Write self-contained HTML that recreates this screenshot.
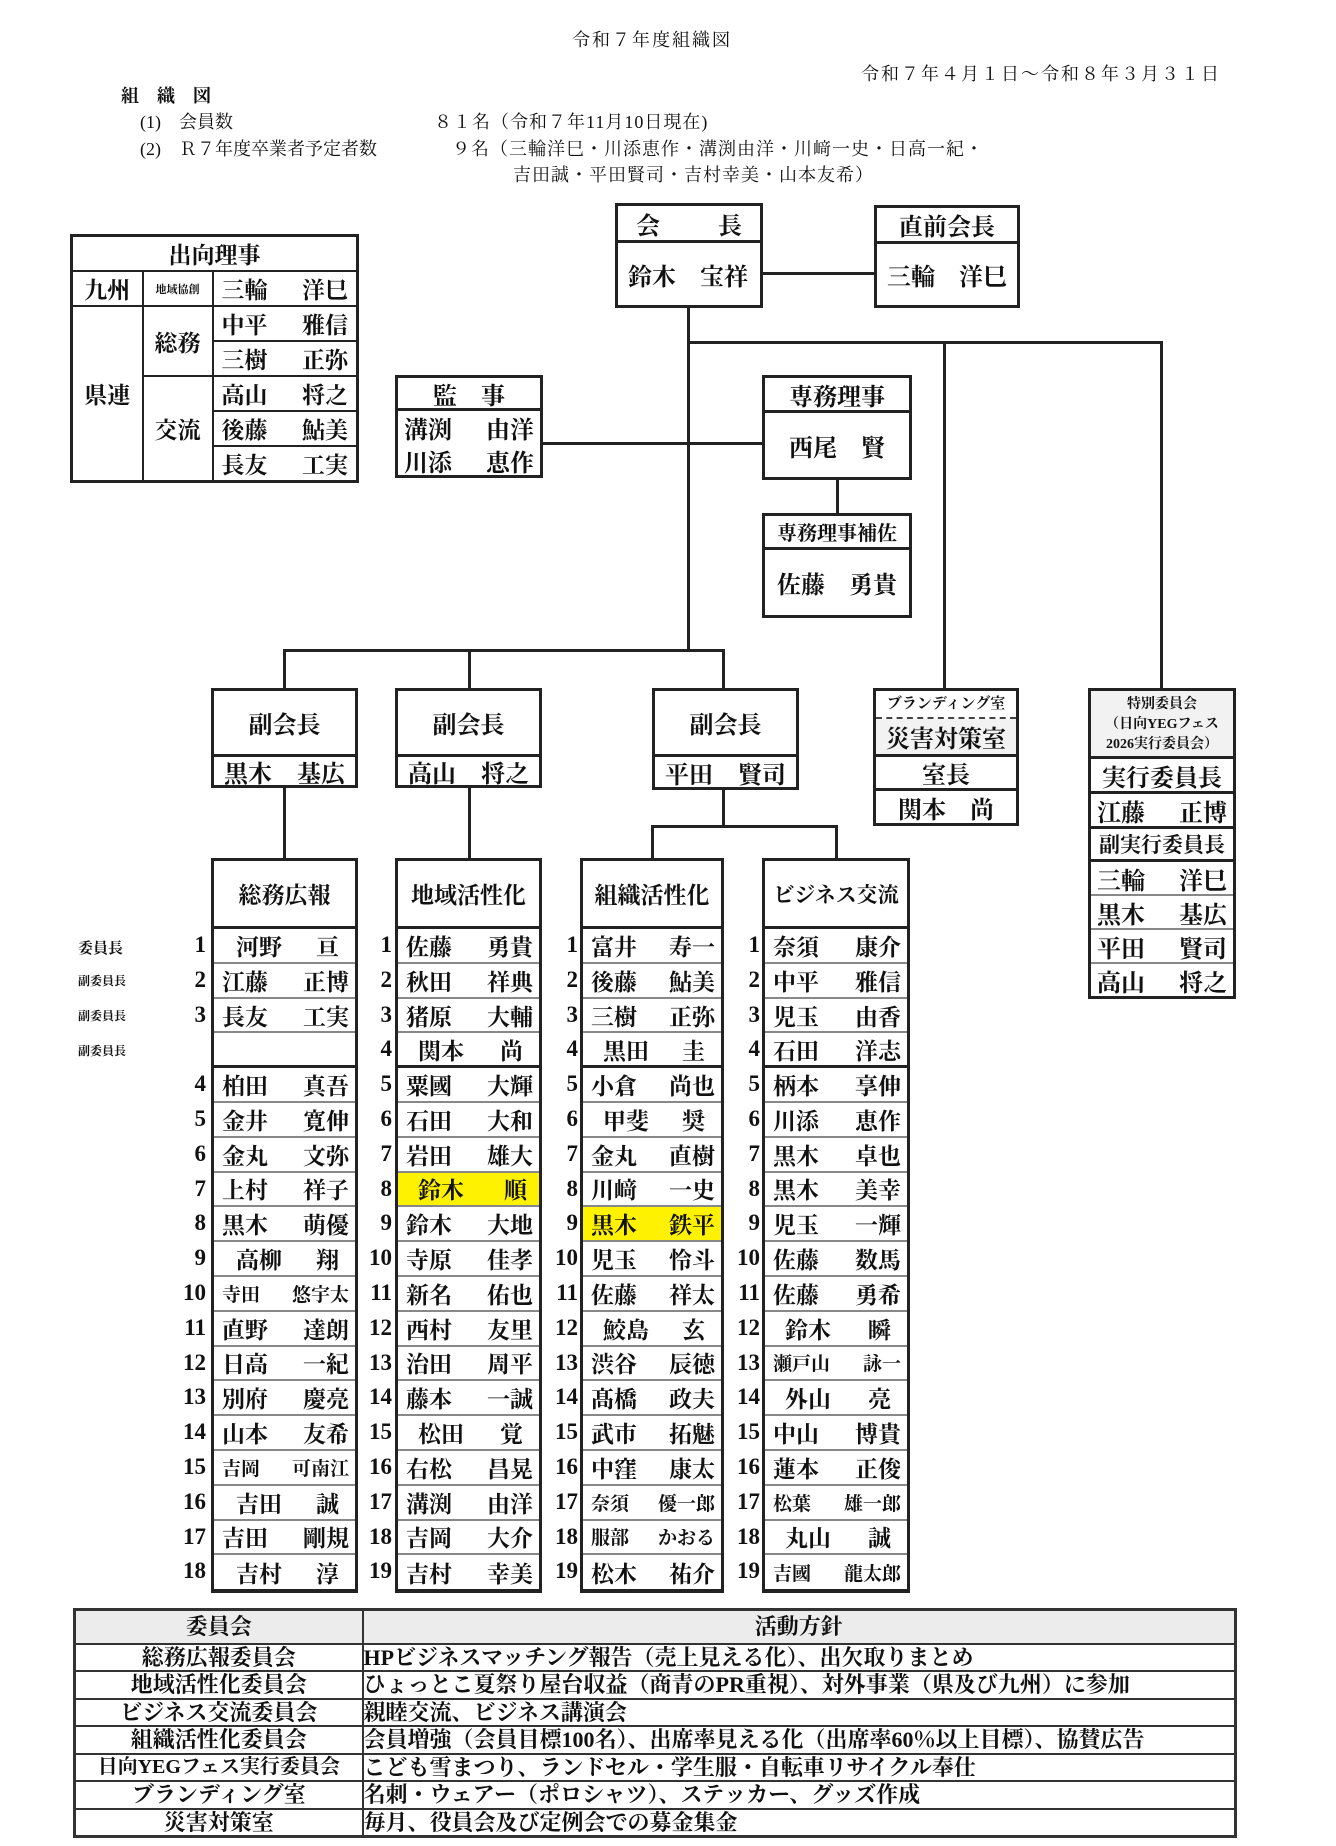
<!DOCTYPE html>
<html><head><meta charset="utf-8">
<style>
*{box-sizing:border-box;margin:0;padding:0}
body{width:1336px;height:1846px;background:#fff;position:relative;overflow:hidden;font-family:"Liberation Serif","Noto Serif CJK JP",serif;color:#111}
.a{position:absolute}
.t{font-size:18px;white-space:nowrap}
.box{position:absolute;border:3px solid #222;background:#fff;font-weight:bold}
.hd{border-bottom:3px solid #222;display:flex;align-items:center;justify-content:center;font-size:24px}
.nm{display:flex;align-items:center;justify-content:space-between;padding:0 10px;font-size:24px}
.h{position:absolute;height:3px;background:#222}
.v{position:absolute;width:3px;background:#222}
.col{position:absolute;top:858px;height:735px;border:3px solid #222;border-bottom-width:4px;font-weight:bold;background:#fff}
.col .hd{height:68px;font-size:23px}
.col .r{height:34.8px;border-bottom:2px solid #888;display:flex;align-items:center;justify-content:space-between;padding:0 6px 0 8px;font-size:23px;white-space:nowrap}
.col .r.k{border-bottom:3px solid #222}
.col .r:last-child{border-bottom:none}
.col .y{background:#fff200}
.col .s{font-size:19px}
.num{position:absolute;top:928px;width:26px;font-weight:bold;font-size:23px;text-align:right}
.num div{height:34.8px;line-height:34.8px}
.lbl{position:absolute;left:78px;font-size:12px;font-weight:bold}
table{border-collapse:collapse}
#sk td{border:2px solid #222;text-align:center;font-weight:bold;font-size:23px}
#bt td{border:2px solid #333;font-weight:bold;font-size:22px;white-space:nowrap;height:27.5px;line-height:25px}
</style></head><body>
<div class="a t" style="left:572px;top:26px;letter-spacing:2px">令和７年度組織図</div>
<div class="a t" style="left:861px;top:60px;letter-spacing:2px">令和７年４月１日～令和８年３月３１日</div>
<div class="a t" style="left:121px;top:82px;font-weight:bold">組　織　図</div>
<div class="a t" style="left:140px;top:108px">(1)　会員数</div>
<div class="a t" style="left:434px;top:108px;letter-spacing:1px">８１名（令和７年11月10日現在)</div>
<div class="a t" style="left:140px;top:135px">(2)　Ｒ７年度卒業者予定者数</div>
<div class="a t" style="left:452px;top:135px;letter-spacing:1px">９名（三輪洋巳・川添恵作・溝渕由洋・川﨑一史・日高一紀・</div>
<div class="a t" style="left:513px;top:161px;letter-spacing:1px">吉田誠・平田賢司・吉村幸美・山本友希）</div>

<!-- 出向理事 -->
<table id="sk" class="a" style="left:70px;top:234px;width:289px;height:244px;border:3px solid #222">
<tr style="height:35px"><td colspan="3">出向理事</td></tr>
<tr style="height:35px"><td style="width:71px">九州</td><td style="width:70px;font-size:11px">地域協創</td><td><div style="display:flex;justify-content:space-between;padding:0 8px"><span>三輪</span><span>洋巳</span></div></td></tr>
<tr><td rowspan="5">県連</td><td rowspan="2">総務</td><td><div style="display:flex;justify-content:space-between;padding:0 8px"><span>中平</span><span>雅信</span></div></td></tr>
<tr><td><div style="display:flex;justify-content:space-between;padding:0 8px"><span>三樹</span><span>正弥</span></div></td></tr>
<tr><td rowspan="3">交流</td><td><div style="display:flex;justify-content:space-between;padding:0 8px"><span>高山</span><span>将之</span></div></td></tr>
<tr><td><div style="display:flex;justify-content:space-between;padding:0 8px"><span>後藤</span><span>鮎美</span></div></td></tr>
<tr><td><div style="display:flex;justify-content:space-between;padding:0 8px"><span>長友</span><span>工実</span></div></td></tr>
</table>

<!-- lines -->
<div class="v" style="left:687px;top:306px;height:345px"></div>
<div class="h" style="left:687px;top:341px;width:476px"></div>
<div class="v" style="left:943px;top:341px;height:348px"></div>
<div class="v" style="left:1160px;top:341px;height:348px"></div>
<div class="h" style="left:760px;top:272px;width:117px"></div>
<div class="h" style="left:540px;top:442px;width:224px"></div>
<div class="v" style="left:836px;top:478px;height:37px"></div>
<div class="h" style="left:283px;top:649px;width:442px"></div>
<div class="v" style="left:283px;top:649px;height:40px"></div>
<div class="v" style="left:468px;top:649px;height:40px"></div>
<div class="v" style="left:722px;top:649px;height:40px"></div>
<div class="v" style="left:283px;top:786px;height:73px"></div>
<div class="v" style="left:468px;top:786px;height:73px"></div>
<div class="v" style="left:722px;top:790px;height:36px"></div>
<div class="h" style="left:651px;top:825px;width:187px"></div>
<div class="v" style="left:651px;top:825px;height:34px"></div>
<div class="v" style="left:835px;top:825px;height:34px"></div>

<!-- 会長 -->
<div class="box" style="left:615px;top:203px;width:148px;height:105px">
<div class="hd" style="height:37px;justify-content:space-between;padding:0 18px"><span>会</span><span>長</span></div>
<div class="nm" style="height:62px">鈴木　宝祥</div></div>
<div class="box" style="left:874px;top:205px;width:146px;height:103px">
<div class="hd" style="height:36px">直前会長</div>
<div class="nm" style="height:61px"><span>三輪</span><span>洋巳</span></div></div>
<div class="box" style="left:395px;top:375px;width:148px;height:103px">
<div class="hd" style="height:33px">監　事</div>
<div class="nm" style="height:33px;padding:0 6px"><span>溝渕</span><span>由洋</span></div>
<div class="nm" style="height:33px;padding:0 6px"><span>川添</span><span>恵作</span></div></div>
<div class="box" style="left:762px;top:375px;width:150px;height:105px">
<div class="hd" style="height:35px">専務理事</div>
<div class="nm" style="height:64px;justify-content:center">西尾　賢</div></div>
<div class="box" style="left:762px;top:513px;width:150px;height:105px">
<div class="hd" style="height:34px;font-size:20px">専務理事補佐</div>
<div class="nm" style="height:65px;justify-content:center">佐藤　勇貴</div></div>

<!-- 副会長 -->
<div class="box" style="left:211px;top:688px;width:147px;height:100px">
<div class="hd" style="height:66px">副会長</div><div class="nm" style="height:28px"><span>黒木</span><span>基広</span></div></div>
<div class="box" style="left:395px;top:688px;width:147px;height:100px">
<div class="hd" style="height:66px">副会長</div><div class="nm" style="height:28px"><span>高山</span><span>将之</span></div></div>
<div class="box" style="left:652px;top:688px;width:147px;height:102px">
<div class="hd" style="height:66px">副会長</div><div class="nm" style="height:30px"><span>平田</span><span>賢司</span></div></div>

<!-- ブランディング -->
<div class="box" style="left:873px;top:688px;width:146px;height:138px">
<div style="height:28px;border-bottom:2px dashed #444;text-align:center;font-size:15px;line-height:26px">ブランディング室</div>
<div class="hd" style="height:38px;font-size:24px;background:#f2f2f2">災害対策室</div>
<div class="hd" style="height:34px">室長</div>
<div class="nm" style="height:32px;justify-content:center">関本　尚</div></div>

<!-- 特別委員会 -->
<div class="box" style="left:1088px;top:688px;width:148px;height:311px">
<div style="height:68px;border-bottom:3px solid #222;text-align:center;font-size:14px;line-height:20px;padding-top:4px;background:#f2f2f2">特別委員会<br>（日向YEGフェス<br>2026実行委員会）</div>
<div class="hd" style="height:35px">実行委員長</div>
<div class="nm" style="height:35px;border-bottom:3px solid #222;padding:0 6px"><span>江藤</span><span>正博</span></div>
<div class="hd" style="height:33px;font-size:21px">副実行委員長</div>
<div class="nm" style="height:34px;border-bottom:2px solid #888;padding:0 6px"><span>三輪</span><span>洋巳</span></div>
<div class="nm" style="height:34px;border-bottom:2px solid #888;padding:0 6px"><span>黒木</span><span>基広</span></div>
<div class="nm" style="height:34px;border-bottom:2px solid #888;padding:0 6px"><span>平田</span><span>賢司</span></div>
<div class="nm" style="height:32px;padding:0 6px"><span>高山</span><span>将之</span></div></div>

<!-- labels -->
<div class="lbl" style="top:937px;font-size:15px">委員長</div>
<div class="lbl" style="top:972px">副委員長</div>
<div class="lbl" style="top:1007px">副委員長</div>
<div class="lbl" style="top:1042px">副委員長</div>

<!-- numbers -->
<div class="num" style="left:180px"><div>1</div><div>2</div><div>3</div><div></div><div>4</div><div>5</div><div>6</div><div>7</div><div>8</div><div>9</div><div>10</div><div>11</div><div>12</div><div>13</div><div>14</div><div>15</div><div>16</div><div>17</div><div>18</div></div>
<div class="num" style="left:366px"><div>1</div><div>2</div><div>3</div><div>4</div><div>5</div><div>6</div><div>7</div><div>8</div><div>9</div><div>10</div><div>11</div><div>12</div><div>13</div><div>14</div><div>15</div><div>16</div><div>17</div><div>18</div><div>19</div></div>
<div class="num" style="left:552px"><div>1</div><div>2</div><div>3</div><div>4</div><div>5</div><div>6</div><div>7</div><div>8</div><div>9</div><div>10</div><div>11</div><div>12</div><div>13</div><div>14</div><div>15</div><div>16</div><div>17</div><div>18</div><div>19</div></div>
<div class="num" style="left:734px"><div>1</div><div>2</div><div>3</div><div>4</div><div>5</div><div>6</div><div>7</div><div>8</div><div>9</div><div>10</div><div>11</div><div>12</div><div>13</div><div>14</div><div>15</div><div>16</div><div>17</div><div>18</div><div>19</div></div>

<!-- columns -->
<div class="col" style="left:211px;width:147px"><div class="hd">総務広報</div>
<div class="r" style="padding:0 16px 0 22px"><span>河野</span><span>亘</span></div>
<div class="r"><span>江藤</span><span>正博</span></div>
<div class="r"><span>長友</span><span>工実</span></div>
<div class="r k"></div>
<div class="r"><span>柏田</span><span>真吾</span></div>
<div class="r"><span>金井</span><span>寛伸</span></div>
<div class="r"><span>金丸</span><span>文弥</span></div>
<div class="r"><span>上村</span><span>祥子</span></div>
<div class="r"><span>黒木</span><span>萌優</span></div>
<div class="r" style="padding:0 16px 0 22px"><span>高柳</span><span>翔</span></div>
<div class="r s"><span>寺田</span><span>悠宇太</span></div>
<div class="r"><span>直野</span><span>達朗</span></div>
<div class="r"><span>日高</span><span>一紀</span></div>
<div class="r"><span>別府</span><span>慶亮</span></div>
<div class="r"><span>山本</span><span>友希</span></div>
<div class="r s"><span>吉岡</span><span>可南江</span></div>
<div class="r" style="padding:0 16px 0 22px"><span>吉田</span><span>誠</span></div>
<div class="r"><span>吉田</span><span>剛規</span></div>
<div class="r" style="padding:0 16px 0 22px"><span>吉村</span><span>淳</span></div>
</div>
<div class="col" style="left:395px;width:147px"><div class="hd">地域活性化</div>
<div class="r"><span>佐藤</span><span>勇貴</span></div>
<div class="r"><span>秋田</span><span>祥典</span></div>
<div class="r"><span>猪原</span><span>大輔</span></div>
<div class="r k" style="padding:0 16px 0 20px"><span>関本</span><span>尚</span></div>
<div class="r"><span>粟國</span><span>大輝</span></div>
<div class="r"><span>石田</span><span>大和</span></div>
<div class="r"><span>岩田</span><span>雄大</span></div>
<div class="r y" style="padding:0 12px 0 20px"><span>鈴木</span><span>順</span></div>
<div class="r"><span>鈴木</span><span>大地</span></div>
<div class="r"><span>寺原</span><span>佳孝</span></div>
<div class="r"><span>新名</span><span>佑也</span></div>
<div class="r"><span>西村</span><span>友里</span></div>
<div class="r"><span>治田</span><span>周平</span></div>
<div class="r"><span>藤本</span><span>一誠</span></div>
<div class="r" style="padding:0 16px 0 20px"><span>松田</span><span>覚</span></div>
<div class="r"><span>右松</span><span>昌晃</span></div>
<div class="r"><span>溝渕</span><span>由洋</span></div>
<div class="r"><span>吉岡</span><span>大介</span></div>
<div class="r"><span>吉村</span><span>幸美</span></div>
</div>
<div class="col" style="left:580px;width:144px"><div class="hd">組織活性化</div>
<div class="r"><span>富井</span><span>寿一</span></div>
<div class="r"><span>後藤</span><span>鮎美</span></div>
<div class="r"><span>三樹</span><span>正弥</span></div>
<div class="r k" style="padding:0 16px 0 20px"><span>黒田</span><span>圭</span></div>
<div class="r"><span>小倉</span><span>尚也</span></div>
<div class="r" style="padding:0 16px 0 20px"><span>甲斐</span><span>奨</span></div>
<div class="r"><span>金丸</span><span>直樹</span></div>
<div class="r"><span>川﨑</span><span>一史</span></div>
<div class="r y"><span>黒木</span><span>鉄平</span></div>
<div class="r"><span>児玉</span><span>怜斗</span></div>
<div class="r"><span>佐藤</span><span>祥太</span></div>
<div class="r" style="padding:0 16px 0 20px"><span>鮫島</span><span>玄</span></div>
<div class="r"><span>渋谷</span><span>辰徳</span></div>
<div class="r"><span>髙橋</span><span>政夫</span></div>
<div class="r"><span>武市</span><span>拓魅</span></div>
<div class="r"><span>中窪</span><span>康太</span></div>
<div class="r s"><span>奈須</span><span>優一郎</span></div>
<div class="r s"><span>服部</span><span>かおる</span></div>
<div class="r"><span>松木</span><span>祐介</span></div>
</div>
<div class="col" style="left:762px;width:148px"><div class="hd" style="font-size:21px">ビジネス交流</div>
<div class="r"><span>奈須</span><span>康介</span></div>
<div class="r"><span>中平</span><span>雅信</span></div>
<div class="r"><span>児玉</span><span>由香</span></div>
<div class="r k"><span>石田</span><span>洋志</span></div>
<div class="r"><span>柄本</span><span>享伸</span></div>
<div class="r"><span>川添</span><span>恵作</span></div>
<div class="r"><span>黒木</span><span>卓也</span></div>
<div class="r"><span>黒木</span><span>美幸</span></div>
<div class="r"><span>児玉</span><span>一輝</span></div>
<div class="r"><span>佐藤</span><span>数馬</span></div>
<div class="r"><span>佐藤</span><span>勇希</span></div>
<div class="r" style="padding:0 16px 0 20px"><span>鈴木</span><span>瞬</span></div>
<div class="r s"><span>瀬戸山</span><span>詠一</span></div>
<div class="r" style="padding:0 16px 0 20px"><span>外山</span><span>亮</span></div>
<div class="r"><span>中山</span><span>博貴</span></div>
<div class="r"><span>蓮本</span><span>正俊</span></div>
<div class="r s"><span>松葉</span><span>雄一郎</span></div>
<div class="r" style="padding:0 16px 0 20px"><span>丸山</span><span>誠</span></div>
<div class="r s"><span>吉國</span><span>龍太郎</span></div>
</div>

<!-- bottom table -->
<table id="bt" class="a" style="left:73px;top:1608px;width:1164px;border:3px solid #333">
<tr style="background:#ececec"><td style="width:288px;text-align:center;height:34px">委員会</td><td style="text-align:center">活動方針</td></tr>
<tr><td style="text-align:center">総務広報委員会</td><td>HPビジネスマッチング報告（売上見える化）、出欠取りまとめ</td></tr>
<tr><td style="text-align:center">地域活性化委員会</td><td>ひょっとこ夏祭り屋台収益（商青のPR重視）、対外事業（県及び九州）に参加</td></tr>
<tr><td style="text-align:center">ビジネス交流委員会</td><td>親睦交流、ビジネス講演会</td></tr>
<tr><td style="text-align:center">組織活性化委員会</td><td>会員増強（会員目標100名）、出席率見える化（出席率60％以上目標）、協賛広告</td></tr>
<tr><td style="text-align:center;font-size:20px">日向YEGフェス実行委員会</td><td>こども雪まつり、ランドセル・学生服・自転車リサイクル奉仕</td></tr>
<tr><td style="text-align:center">ブランディング室</td><td>名刺・ウェアー（ポロシャツ）、ステッカー、グッズ作成</td></tr>
<tr><td style="text-align:center">災害対策室</td><td>毎月、役員会及び定例会での募金集金</td></tr>
</table>
</body></html>
